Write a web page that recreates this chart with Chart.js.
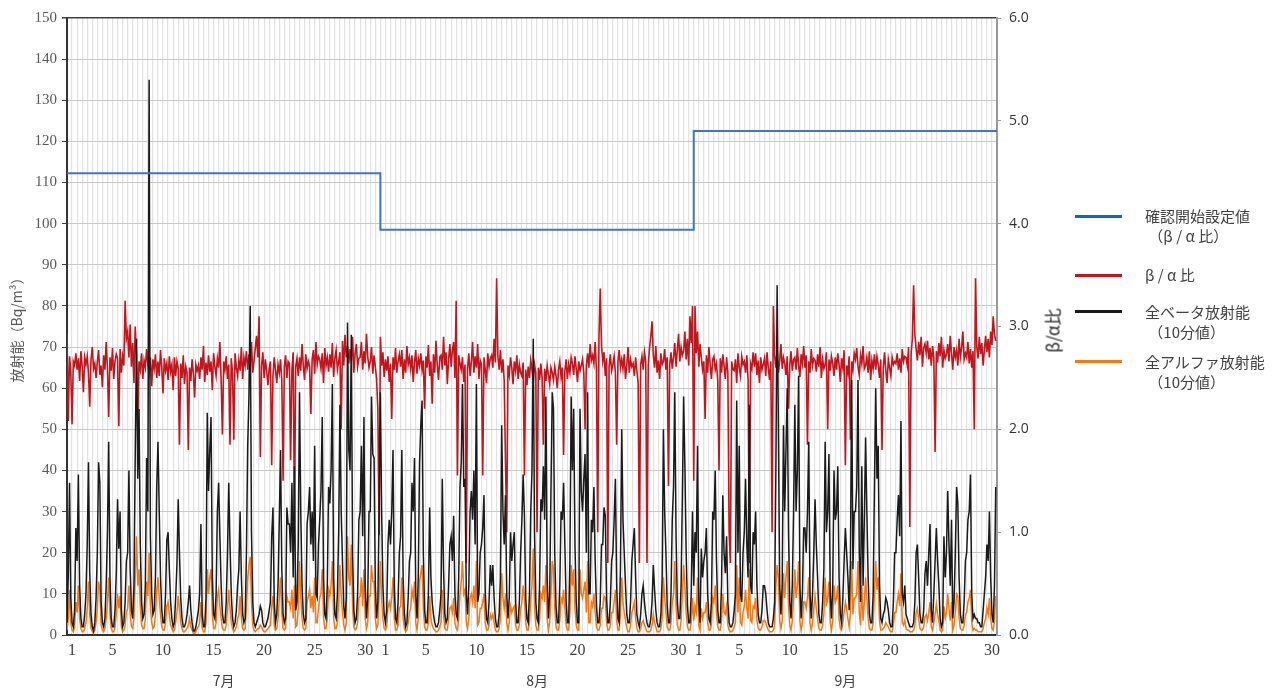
<!DOCTYPE html>
<html>
<head>
<meta charset="utf-8">
<script src="https://cdn.jsdelivr.net/npm/chart.js@4.4.1/dist/chart.umd.min.js"></script>
<style>
  body { margin: 0; background: #fff; }
  #wrap { position: relative; width: 1274px; height: 693px; }
  .lg-line { position: absolute; left: 1075px; width: 47px; height: 3px; }
  .lg-text { position: absolute; left: 1145px; font-family: "Noto Sans CJK JP", sans-serif; font-size: 15px; color: #404040; line-height: 20px; white-space: nowrap; }
  #rtitle { position: absolute; left: 1017px; top: 318px; width: 70px; text-align: center; white-space: nowrap;
            transform: rotate(-90deg); font-family: "Noto Sans CJK JP", sans-serif; font-size: 17px; color: #222; }
</style>
</head>
<body>
<div id="wrap">
  <canvas id="chart" width="1274" height="693"></canvas>
  <div id="rtitle">β/α比</div>
  <div class="lg-line" style="top:215px;background:#0070c0"></div>
  <div class="lg-text" style="top:206px">確認開始設定値<br>&nbsp;（β / α 比）</div>
  <div class="lg-line" style="top:274px;background:#c0161e"></div>
  <div class="lg-text" style="top:265px">β / α 比</div>
  <div class="lg-line" style="top:310px;background:#1a1a1a"></div>
  <div class="lg-text" style="top:302px">全ベータ放射能<br>&nbsp;（10分値）</div>
  <div class="lg-line" style="top:360px;background:#f07a1a"></div>
  <div class="lg-text" style="top:352px">全アルファ放射能<br>&nbsp;（10分値）</div>
</div>
<script>
// 3-hour samples (00,03,...,21h)
const SAMPLES_PER_DAY = 8;
const monthNames = ['7月', '8月', '9月'];
const monthDays = [31, 31, 30];
const labeledDays = [1, 5, 10, 15, 20, 25, 30];
const setpoint = [4.49, 3.94, 4.90];

const betaJul = [
  3,14,37,9,3,2,6,26, 18,39,12,4,2,2,5,10, 22,42,15,5,2,1,3,9, 20,42,37,8,3,2,4,12,
  25,47,14,4,2,2,6,15, 33,21,30,6,2,3,8,18, 20,40,16,6,4,12,44,72, 38,55,22,8,4,5,12,43,
  30,135,24,10,5,6,14,36, 47,30,14,6,3,3,10,23, 25,16,8,4,2,3,9,17, 33,20,9,4,2,2,3,5,
  8,12,6,3,1,1,2,4, 6,10,27,5,2,2,9,54, 35,45,53,14,5,4,10,30, 37,24,12,5,3,3,8,20,
  37,22,10,4,2,3,6,12, 16,30,14,5,3,4,20,46, 58,80,25,8,3,2,3,4, 5,7,6,3,2,2,3,4,
  6,8,24,31,8,3,5,12, 28,45,16,5,3,4,31,27, 27,20,37,14,41,6,8,22, 59,30,12,5,3,4,27,30,
  36,22,30,18,46,10,9,22, 28,35,53,14,5,4,12,36, 32,40,61,14,5,4,10,25, 56,30,18,7,4,9,76,45,
  40,73,20,6,3,4,10,28, 30,46,24,53,12,4,9,30, 30,58,44,43,12,4,8,30
];
const betaAug = [
  59,30,12,5,3,6,22,28, 22,30,45,12,4,3,8,20, 24,45,14,5,2,3,9,18, 20,37,30,43,10,4,14,42,
  51,57,20,6,3,3,10,31, 14,8,5,3,2,2,3,6, 10,38,16,5,3,4,12,22, 24,18,29,10,5,4,14,36,
  42,61,36,38,10,5,12,30, 35,28,40,22,61,8,10,20, 22,26,34,10,4,3,8,17, 12,17,9,4,2,2,5,14,
  51,30,22,34,10,4,9,25, 18,22,25,8,3,3,8,20, 28,39,29,9,4,3,10,30, 40,72,25,8,4,3,12,33,
  30,41,28,58,14,4,10,35, 59,55,20,7,3,3,12,30, 28,37,22,8,3,3,18,58, 40,55,22,8,3,3,55,35,
  30,38,44,20,59,10,10,28, 25,36,18,7,3,3,8,22, 22,31,29,9,3,3,8,18, 20,28,38,12,4,3,16,50,
  28,20,12,5,3,3,8,18, 22,26,14,5,3,2,5,10, 12,8,5,3,2,2,4,8, 17,11,6,3,2,2,5,14,
  50,30,20,7,3,3,10,28, 36,59,24,8,4,4,12,34, 58,41,20,7,3,3,10,30
];
const betaSep = [
  12,25,20,46,8,3,21,14, 18,20,26,10,4,3,8,30, 28,40,18,6,3,3,12,34, 20,15,24,8,3,2,2,3,
  6,10,57,20,46,10,8,20, 25,38,22,14,56,12,10,25, 22,30,12,5,3,3,6,12, 12,10,6,3,2,2,2,4,
  8,40,85,50,12,5,12,51, 30,45,60,25,8,4,12,30, 56,30,40,63,12,4,10,26, 26,20,30,47,10,4,10,20,
  33,22,14,5,3,3,8,16, 47,25,30,44,10,4,12,40, 28,30,41,14,5,3,9,18, 26,20,14,6,18,62,16,30,
  30,36,62,20,8,41,12,28, 48,30,14,5,3,3,10,36, 60,38,46,12,4,3,5,6, 9,8,6,3,2,2,8,20,
  20,28,34,24,52,10,8,12, 5,4,3,2,2,2,3,8, 20,22,14,5,3,3,6,15, 18,12,20,27,6,3,10,18,
  26,18,12,4,2,3,24,14, 20,35,22,12,28,4,8,20, 36,32,14,5,3,3,8,18, 20,28,30,39,10,4,5,4,
  4,3,3,2,2,6,10,14, 22,18,30,14,5,3,12,36
];

const alphaJul = [
  1.2,4,11,3,1.2,0.8,2,8, 5.5,12,4,1.6,0.8,0.8,1.6,3, 6.5,13,5,1.6,0.8,0.4,1.2,3, 6.5,13,11,2.4,1.2,0.8,1.6,4,
  8,14,5,1.6,0.8,0.8,2,5, 10,6.5,9.5,2,0.8,1.2,2.4,5.5, 6.5,12,5,2,1.6,4,14,24, 12,16,7,2.4,1.6,1.6,4,13,
  9.5,20,7,3,1.6,2,5,11, 14,9,5,2,1.2,1.2,3,7, 8,5,2.4,1.6,0.8,1.2,3,5.5, 9.5,6.5,3,1.6,0.8,0.8,1.2,1.6,
  2.4,4,2,1.2,0.4,0.4,0.8,1.6, 2,3,8,1.6,0.8,0.8,3,16, 10,14,16,5,1.6,1.6,3,9.5, 11,7,4,1.6,1.2,1.2,2.4,6.5,
  11,6.5,3,1.6,0.8,1.2,2,4, 5,9.5,4,1.6,1.2,1.6,6.5,14, 17,19,8,2.4,1.2,0.8,1.2,1.6, 1.6,2.4,2,1.2,0.8,0.8,1.2,1.6,
  2,2.4,7,9.5,2.4,1.2,1.6,4, 9,14,5,1.6,1.2,1.6,9.5,8, 8,6.5,11,4,12,2,2.4,6.5, 18,9.5,4,1.6,1.2,1.6,8,9.5,
  11,6.5,9.5,5.5,14,3,3,6.5, 9,10,16,4,1.6,1.6,4,11, 9.5,12,18,4,1.6,1.6,3,8, 17,9.5,5.5,2.4,1.2,3,24,14,
  12,22,6.5,2,1.2,1.6,3,9, 9.5,14,7,16,4,1.6,3,9.5, 9.5,17,13,13,4,1.6,2.4,9.5
];
const alphaAug = [
  18,9,4,1.6,1.2,2,6.5,8, 6.5,9,14,4,1.2,1.2,2.4,6.5, 7,14,4,1.6,0.8,1.2,3,5.5, 6.5,11,9,13,3,1.2,4,13,
  15,17,6.5,2,1.2,1.2,3,9.5, 4,2.4,1.6,1.2,0.8,0.8,1.2,2, 3,11,5,1.6,1.2,1.2,4,6.5, 7,5.5,9,3,1.6,1.2,4,10,
  13,18,10,11,3,1.6,4,9, 10,8,12,6.5,18,2.4,3,6.5, 6.5,8,10,3,1.2,1.2,2.4,5, 4,5,3,1.2,0.8,0.8,1.6,4,
  15,9,6.5,10,3,1.2,3,7, 5.5,6.5,7,2.4,1.2,1.2,2.4,6.5, 8,12,9,3,1.2,1.2,3,9, 12,21,7,2.4,1.2,1.2,3.5,10,
  9,12,8,17,4,1.2,3,10, 18,16,6.5,2,1.2,1.2,3.5,9, 8,11,6.5,2.4,1.2,1.2,5.5,17, 12,16,6.5,2.4,1.2,1.2,16,10,
  9,11,13,5.5,18,3,3,8, 7,10,5.5,2,1.2,1.2,2.4,6.5, 6.5,9.5,9,3,1.2,1.2,2.4,5.5, 5.5,8,11,3.5,1.2,1.2,5,14,
  8,5.5,3.5,1.6,0.8,0.8,2.4,5.5, 6.5,8,4,1.6,0.8,0.8,1.6,3, 3.5,2.4,1.6,0.8,0.8,0.8,1.2,2.4, 5,3,2,0.8,0.8,0.8,1.6,4,
  14,9,5.5,2,1.2,1.2,3,8, 10,18,7,2.4,1.2,1.2,3.5,10, 17,12,5.5,2,1.2,1.2,3,9
];
const alphaSep = [
  3.5,7,5.5,14,2.4,1.2,6.5,4, 5.5,5.5,8,3,1.2,1.2,2.4,9, 8,12,5.5,2,1.2,1.2,3.5,10, 5.5,5,7,2.4,1.2,0.8,0.8,1.2,
  2,3,17,5.5,14,3,2.4,5.5, 7,11,6.5,4,16,3.5,3,7, 6.5,9,3.5,1.6,1.2,1.2,2,3.5, 3.5,3,2,1.2,0.8,0.8,0.8,1.2,
  2.4,12,17,14,3.5,1.6,3.5,15, 9,14,18,7,2.4,1.2,3.5,9, 16,9,12,18,3.5,1.2,3,8, 8,6.5,9,14,3,1.2,3,6.5,
  9.5,6.5,4,1.6,1.2,1.2,2.4,5, 14,7,9,13,3,1.2,3.5,12, 8,9,12,4,1.6,1.2,3,5.5, 8,6.5,4,2,5.5,18,5,9,
  9,10,18,5.5,2.4,12,3.5,8, 14,9,4,1.6,1.2,1.2,3,10, 18,11,14,3.5,1.2,1.2,1.6,2, 3,2.4,2,1.2,0.8,0.8,2.4,5.5,
  5.5,8,10,7,15,3,2.4,3.5, 1.6,1.2,1.2,0.8,0.8,0.8,1.2,2.4, 5.5,6.5,4,1.6,1.2,1.2,2,4.5, 5,3.5,5.5,8,2,1.2,3,5,
  7.5,5,3.5,1.2,0.8,1.2,7,4, 5.5,10,6.5,3.5,8,1.2,2.4,5.5, 10,9.5,4,1.6,1.2,1.2,2.4,5, 5.5,8,9,11,3,1.2,1.6,1.2,
  1.2,0.8,0.8,0.8,0.8,1.6,3,4, 6.5,5,9,4,1.6,1.2,3.5,9.5
];

const ratioJul = [
  2.93,2.08,2.71,2.55,2.05,2.66,2.62,2.74, 2.58,2.69,2.47,2.76,2.61,2.36,2.70,2.63,
  2.71,2.55,2.22,2.68,2.80,2.59,2.64,2.50, 2.66,2.77,2.53,2.62,2.41,2.72,2.58,2.85,
  2.60,2.12,2.70,2.57,2.79,2.49,2.66,2.73, 2.69,2.03,2.78,2.55,2.71,2.62,3.25,2.88,
  2.95,2.70,3.02,2.61,2.84,2.45,3.00,2.72, 2.00,2.66,2.58,2.74,2.49,2.67,2.60,2.78,
  2.63,2.55,2.70,2.42,2.68,2.59,2.73,2.50, 2.66,2.52,2.77,2.60,2.35,2.69,2.57,2.64,
  2.48,2.71,2.56,2.63,2.38,2.70,2.52,2.66, 2.59,1.85,2.64,2.50,2.72,2.44,2.61,2.55,
  1.80,2.60,2.47,2.68,2.54,2.31,2.63,2.57, 2.62,2.49,2.70,2.58,2.81,2.46,2.65,2.53,
  2.72,2.56,2.66,2.38,2.74,2.61,2.52,2.69, 2.60,2.85,2.47,1.95,2.66,2.58,2.71,2.49,
  2.63,1.85,2.69,2.55,1.90,2.74,2.60,2.52, 2.67,2.57,2.80,2.49,2.70,2.62,2.76,2.58,
  2.73,2.60,2.85,2.55,2.66,2.79,2.91,2.70, 3.10,1.73,2.62,2.75,2.50,2.68,2.57,2.43,
  2.59,2.66,1.65,2.52,2.70,2.58,2.45,2.63, 2.55,2.68,2.47,1.50,2.61,2.72,2.50,2.66,
  2.64,1.70,2.58,2.75,1.10,2.61,2.69,2.52, 2.70,2.57,2.83,2.62,2.48,2.73,2.59,2.66,
  2.61,2.15,2.68,2.77,2.54,2.85,2.63,2.71, 2.68,2.59,2.74,2.45,2.79,2.62,2.70,2.56,
  2.73,2.60,2.84,2.51,2.69,2.77,2.58,2.66, 2.75,2.00,2.86,2.62,2.92,2.70,2.81,2.64,
  2.78,2.66,2.90,2.55,2.74,2.83,2.61,2.69, 2.70,2.85,2.58,2.76,2.64,2.93,2.71,2.60,
  2.66,2.80,2.54,2.72,2.61,2.49,2.20,0.97
];
const ratioAug = [
  2.90,2.62,2.75,2.51,2.68,2.57,2.71,2.46, 2.64,2.10,2.70,2.58,2.79,2.55,2.66,2.73,
  2.61,2.77,2.49,2.68,2.55,2.81,2.63,2.70, 2.59,2.72,2.46,2.65,2.77,2.54,2.69,2.62,
  2.74,2.58,2.67,2.20,2.71,2.60,2.82,2.52, 2.66,2.25,2.73,2.55,2.86,2.63,2.48,2.70,
  2.72,2.58,2.90,2.62,2.75,2.44,2.68,2.83, 2.61,2.77,2.85,2.50,3.25,1.55,2.72,2.64,
  2.58,2.70,2.46,2.63,0.70,2.59,2.74,2.52, 2.66,2.85,2.55,2.71,2.60,2.83,2.49,2.67,
  2.63,1.55,2.70,2.58,2.45,2.74,2.61,2.69, 2.72,2.60,2.88,2.65,3.47,2.71,2.58,2.77,
  2.55,2.68,2.47,1.70,1.00,2.62,2.53,2.70, 2.60,2.44,2.66,2.57,2.72,2.49,2.63,2.55,
  2.52,2.65,1.55,2.58,2.43,2.61,2.50,2.67, 2.58,2.46,2.63,2.55,1.00,2.60,2.48,2.64,
  2.50,1.85,2.59,2.47,2.62,2.53,2.44,2.60, 2.55,2.48,2.61,2.52,2.40,2.58,2.66,2.51,
  2.60,1.75,2.57,2.68,2.49,2.63,2.55,2.70, 2.64,2.53,2.71,2.59,2.46,2.66,2.57,2.62,
  2.68,2.55,2.00,2.62,2.74,2.60,2.83,2.67, 2.72,2.64,2.85,2.58,1.00,2.90,3.37,2.81,
  2.66,2.75,2.52,2.69,0.70,2.61,2.73,2.57, 2.63,2.71,2.55,1.85,2.66,2.77,2.60,2.68,
  2.59,2.73,2.49,2.62,2.80,2.55,2.68,2.61, 2.64,2.52,2.70,2.57,2.45,0.70,2.63,2.71,
  2.58,2.75,2.66,0.70,2.62,2.79,2.90,3.05, 2.72,2.60,2.81,2.55,2.67,2.49,2.74,2.63,
  2.66,2.78,2.58,2.70,1.45,2.63,2.75,2.59, 2.70,2.84,2.61,2.77,2.93,2.66,2.80,2.72,
  2.76,2.95,2.68,2.88,2.62,3.10,2.84,3.20
];
const ratioSep = [
  1.50,3.20,2.74,2.95,2.61,2.83,2.70,2.58, 2.66,2.10,2.72,2.55,2.80,2.63,2.49,2.68,
  2.71,2.58,2.64,2.47,1.60,2.69,2.55,2.73, 2.62,2.49,2.70,2.55,1.00,0.70,2.66,2.58,
  2.57,2.68,2.45,2.74,2.60,2.52,2.71,2.63, 2.66,2.55,2.72,2.48,0.70,2.64,2.59,2.75,
  2.61,2.74,2.53,2.67,2.45,2.70,2.58,2.63, 2.69,2.52,2.75,2.60,2.48,2.66,1.00,3.20,
  2.72,2.60,2.78,2.55,2.66,2.83,2.59,2.70, 2.64,2.53,2.71,2.20,2.62,2.76,2.57,2.68,
  2.70,2.58,2.79,2.62,2.51,2.73,2.64,2.81, 2.60,2.72,1.85,2.66,2.55,2.78,2.62,2.69,
  2.67,2.56,2.73,2.61,2.80,2.50,2.68,2.59, 2.63,2.75,2.00,2.68,2.57,2.71,2.64,2.52,
  2.70,2.58,2.74,2.63,2.46,2.69,2.60,2.77, 1.65,2.62,2.55,2.71,1.90,2.66,2.58,2.74,
  2.68,2.79,2.61,2.53,2.72,2.64,2.81,2.59, 2.62,2.70,2.55,2.76,2.48,2.67,2.59,2.73,
  2.58,2.71,2.63,2.50,2.68,1.80,2.60,2.75, 2.57,2.45,2.68,2.60,2.52,2.70,2.63,2.66,
  2.64,2.74,2.58,2.69,2.55,2.78,2.66,2.71, 2.70,2.62,2.80,1.05,2.73,2.88,3.40,2.92,
  2.78,2.67,2.85,2.72,2.90,2.61,2.79,2.83, 2.74,2.86,2.68,2.79,2.62,2.81,2.70,1.78,
  2.76,2.65,2.84,2.71,2.90,2.60,2.77,2.69, 2.73,2.83,2.66,2.91,2.74,2.58,2.80,2.70,
  2.77,2.62,2.88,2.70,2.79,2.95,2.68,2.74, 2.70,2.85,2.64,2.78,2.60,2.76,2.00,3.47,
  2.80,2.69,2.90,2.73,2.84,2.62,2.77,2.91, 2.75,2.88,2.70,2.95,2.82,3.10,2.92,2.86
];

const totalDays = monthDays.reduce((a, b) => a + b, 0);
const toPoints = arr => arr.map((v, i) => ({ x: i / SAMPLES_PER_DAY, y: v }));

// blue step line: one setpoint per month
const setpointPoints = [];
let start = 0;
monthDays.forEach((d, i) => {
  setpointPoints.push({ x: start, y: setpoint[i] });
  start += d;
});
setpointPoints.push({ x: start, y: setpoint[setpoint.length - 1] });

function dayLabel(v) {
  if (Math.abs(v - Math.floor(v) - 0.5) > 1e-6) return '';
  let idx = Math.floor(v);
  for (let m = 0; m < monthDays.length; m++) {
    if (idx < monthDays[m]) {
      const d = idx + 1;
      return labeledDays.includes(d) ? String(d) : '';
    }
    idx -= monthDays[m];
  }
  return '';
}

const ctx = document.getElementById('chart').getContext('2d');
new Chart(ctx, {
  type: 'line',
  data: {
    datasets: [
      {
        label: '確認開始設定値（β / α 比）',
        data: setpointPoints,
        yAxisID: 'y2',
        borderColor: '#3f74c6',
        borderWidth: 2,
        stepped: true,
        order: 0,
      },
      {
        label: '全ベータ放射能（10分値）',
        data: toPoints([...betaJul, ...betaAug, ...betaSep]),
        yAxisID: 'y',
        borderColor: '#1a1a1a',
        borderWidth: 1.5,
        order: 1,
      },
      {
        label: '全アルファ放射能（10分値）',
        data: toPoints([...alphaJul, ...alphaAug, ...alphaSep]),
        yAxisID: 'y',
        borderColor: '#f07a1a',
        borderWidth: 1.5,
        order: 2,
      },
      {
        label: 'β / α 比',
        data: toPoints([...ratioJul, ...ratioAug, ...ratioSep]),
        yAxisID: 'y2',
        borderColor: '#c0161e',
        borderWidth: 1.6,
        order: 3,
      },
    ],
  },
  options: {
    responsive: false,
    animation: false,
    elements: { point: { radius: 0 }, line: { tension: 0 } },
    layout: { padding: { left: 8, right: 237, top: 18, bottom: 4 } },
    plugins: { legend: { display: false }, tooltip: { enabled: false } },
    scales: {
      x: {
        type: 'linear',
        position: 'bottom',
        min: 0,
        max: totalDays,
        afterBuildTicks: axis => {
          const t = [];
          for (let v = 0; v <= totalDays; v += 0.5) t.push({ value: v });
          axis.ticks = t;
        },
        afterFit: axis => { axis.height = 28; },
        grid: { color: '#e2e2e2', lineWidth: 1.2, drawTicks: false },
        border: { color: '#333', width: 2 },
        ticks: {
          autoSkip: false,
          maxRotation: 0,
          padding: 6,
          color: '#404040',
          font: { family: 'Liberation Serif', size: 16 },
          callback: value => dayLabel(value),
        },
      },
      xm: {
        type: 'linear',
        position: 'bottom',
        min: 0,
        max: totalDays,
        afterBuildTicks: axis => {
          const t = [];
          let s = 0;
          monthDays.forEach(d => { t.push({ value: s + d / 2 }); s += d; });
          axis.ticks = t;
        },
        afterFit: axis => { axis.height = 26; },
        grid: { display: false },
        border: { display: false },
        ticks: {
          autoSkip: false,
          maxRotation: 0,
          padding: 1,
          color: '#404040',
          font: { family: 'Noto Sans CJK JP', size: 14 },
          callback: (value, i) => monthNames[i],
        },
      },
      y: {
        position: 'left',
        min: 0,
        max: 150,
        afterFit: axis => { axis.width = 59; },
        ticks: {
          stepSize: 10,
          padding: 5,
          color: '#595959',
          font: { family: 'Liberation Serif', size: 15 },
        },
        grid: {
          color: c => (c.tick.value === 150 ? '#404040' : '#c8c8c8'),
          lineWidth: c => (c.tick.value === 150 ? 1.5 : 1),
          tickLength: 5,
          tickColor: '#404040',
        },
        border: { color: '#333', width: 2 },
        title: {
          display: true,
          text: '放射能（Bq/m³）',
          color: '#595959',
          padding: 0,
          font: { family: 'Noto Sans CJK JP', size: 14 },
        },
      },
      y2: {
        position: 'right',
        min: 0,
        max: 6,
        afterFit: axis => { axis.width = 40; },
        ticks: {
          stepSize: 1,
          padding: 8,
          color: '#333',
          font: { family: 'Open Sans', size: 14 },
          callback: v => v.toFixed(1),
        },
        grid: { drawOnChartArea: false, tickLength: 4, tickColor: '#999' },
        border: { color: '#999', width: 2 },
      },
    },
  },
});
</script>
</body>
</html>
